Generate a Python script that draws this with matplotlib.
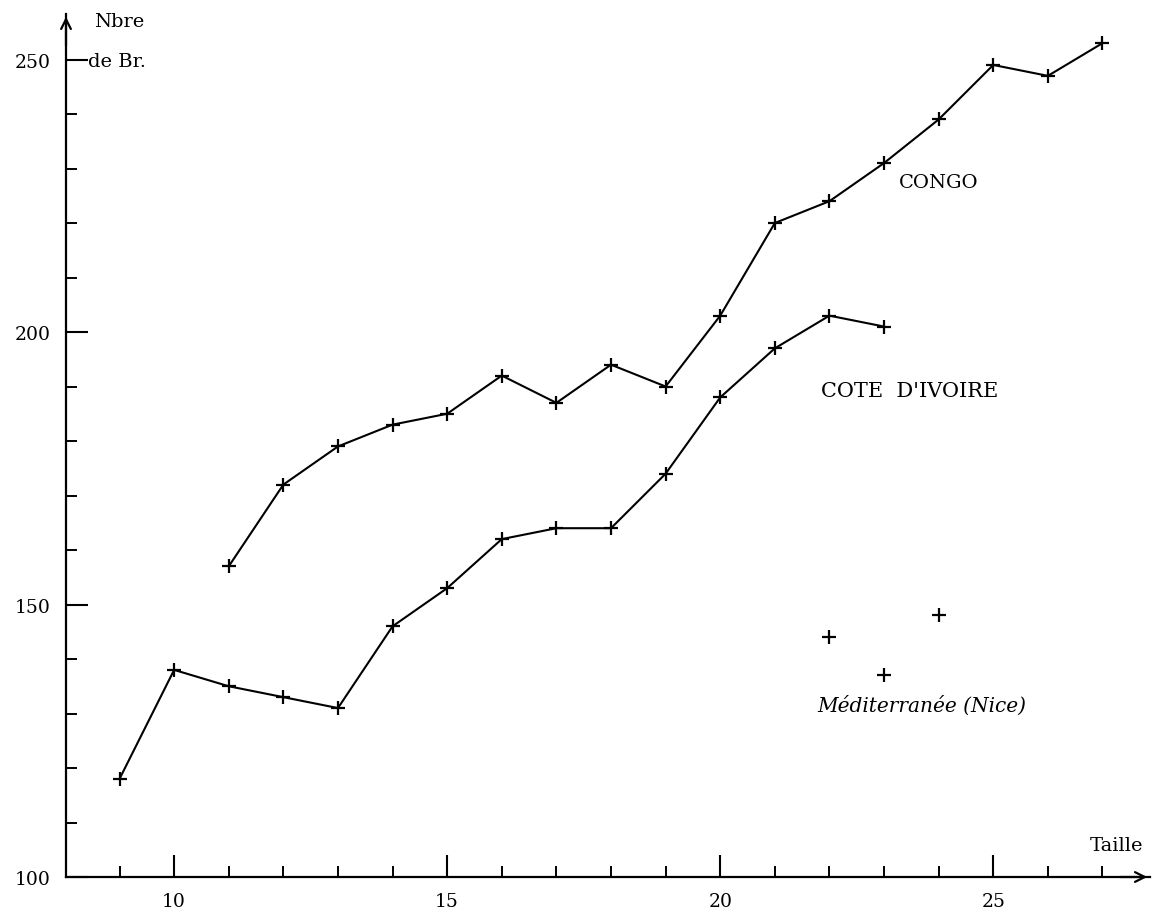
import matplotlib
matplotlib.use("Agg")
import matplotlib.pyplot as plt
from matplotlib.ticker import FixedLocator

# ---- data ----
taille_congo = [11, 12, 13, 14, 15, 16, 17, 18, 19, 20, 21, 22, 23, 24, 25, 26, 27]
nbre_congo = [157, 172, 179, 183, 185, 192, 187, 194, 190, 203, 220, 224, 231, 239, 249, 247, 253]

taille_ci = [9, 10, 11, 12, 13, 14, 15, 16, 17, 18, 19, 20, 21, 22, 23]
nbre_ci = [118, 138, 135, 133, 131, 146, 153, 162, 164, 164, 174, 188, 197, 203, 201]

taille_nice = [22, 23, 24]
nbre_nice = [144, 137, 148]

x_major = [10, 15, 20, 25]
x_minor = list(range(9, 28))
y_major = [100, 150, 200, 250]
y_minor = list(range(110, 260, 10))

plt.rcParams['font.family'] = ['DejaVu Serif']

W, H = 1162, 912
fig = plt.figure(figsize=(W / 100, H / 100), dpi=100)
left_px, right_px, bottom_px, top_px = 66, 1150, 878, 15
ax = fig.add_axes([left_px / W, (H - bottom_px) / H,
                   (right_px - left_px) / W, (bottom_px - top_px) / H])
ax.set_xlim(8.02, 27.87)
ax.set_ylim(100, 258.35)

for s in ['top', 'right']:
    ax.spines[s].set_visible(False)
for s in ['left', 'bottom']:
    ax.spines[s].set_linewidth(1.6)

ax.xaxis.set_major_locator(FixedLocator(x_major))
ax.xaxis.set_minor_locator(FixedLocator(x_minor))
ax.yaxis.set_major_locator(FixedLocator(y_major))
ax.yaxis.set_minor_locator(FixedLocator(y_minor))
ax.tick_params(which='major', direction='in', length=16, width=1.5, labelsize=13.5, pad=11)
ax.tick_params(which='minor', direction='in', length=8, width=1.4)
ax.tick_params(axis='y', which='major', pad=11)

# arrows at axis ends
ax.annotate('', xy=(1.0, 0), xytext=(0.97, 0), xycoords='axes fraction',
            arrowprops=dict(arrowstyle='->,head_length=0.7,head_width=0.35', lw=1.6, color='black'))
ax.annotate('', xy=(0, 1.0), xytext=(0, 0.96), xycoords='axes fraction',
            arrowprops=dict(arrowstyle='->,head_length=0.7,head_width=0.35', lw=1.6, color='black'))

lkw = dict(color='black', lw=1.5, marker='+', markersize=10, markeredgewidth=1.6, clip_on=False)
ax.plot(taille_congo, nbre_congo, **lkw)
ax.plot(taille_ci, nbre_ci, **lkw)
ax.plot(taille_nice, nbre_nice, linestyle='none', color='black', marker='+',
        markersize=10, markeredgewidth=1.6, clip_on=False)

tkw = dict(fontsize=14, va='center', ha='left', clip_on=False)
ax.text(23.28, 227.5, 'CONGO', **tkw)
ax.text(21.85, 189.3, "COTE  D'IVOIRE", fontsize=15, va='center', ha='left', clip_on=False)
ax.text(21.78, 131.7, 'Méditerranée (Nice)', fontsize=14.5, style='italic',
        va='center', ha='left', clip_on=False)
ax.text(8.54, 257.1, 'Nbre', **tkw)
ax.text(8.42, 249.7, 'de Br.', **tkw)
ax.text(26.76, 105.8, 'Taille', **tkw)

fig.savefig('out.png', dpi=100)
